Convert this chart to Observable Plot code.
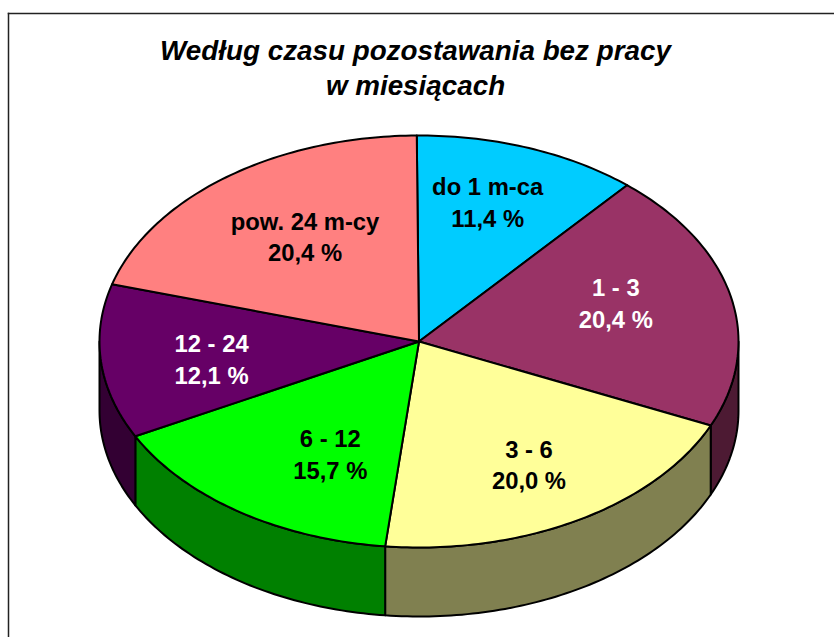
<!DOCTYPE html>
<html><head><meta charset="utf-8">
<style>html,body{margin:0;padding:0;background:#fff}svg{display:block}</style>
<script src="https://cdn.jsdelivr.net/npm/d3@7"></script>
<script src="https://cdn.jsdelivr.net/npm/@observablehq/plot@0.6"></script>
</head><body><script>
const categories = ["do 1 m-ca", "1 - 3", "3 - 6", "6 - 12", "12 - 24", "pow. 24 m-cy"];
const shares = [11.4, 20.4, 20.0, 15.7, 12.1, 20.4];
const shareLabels = ["11,4 %", "20,4 %", "20,0 %", "15,7 %", "12,1 %", "20,4 %"];
const topColors = ["#00CCFF", "#993366", "#FFFF99", "#00FF00", "#660066", "#FF8080"];
const wallColors = ["#006680", "#4D1A33", "#808050", "#008000", "#330033", "#804040"];
const labelInks = ["#000", "#fff", "#000", "#000", "#fff", "#000"];
const labelRadius = [0.71, 0.643, 0.69, 0.615, 0.655, 0.62];
const labelTurn = [-2.5, -4, 0, -7.5, -2, 2];
const title = "Według czasu pozostawania bez pracy\nw miesiącach";

// Pie geometry in unit-circle coordinates; the scales stretch it into a tilted ellipse.
const depth = 69 / 206;
const rotation = -0.4;
const total = d3.sum(shares);
const ends = d3.cumsum(shares).map(v => v / total * 360 + rotation);
const starts = [rotation, ...ends.slice(0, -1)];
const rad = a => a * Math.PI / 180;
const pt = (a, drop = 0) => ({x: Math.sin(rad(a)), y: Math.cos(rad(a)) - drop});
const arc = (a, b) => {
  const n = Math.max(1, Math.ceil(b - a));
  return d3.range(n + 1).map(i => a + (b - a) * i / n);
};

const tops = categories.flatMap((c, i) => [
  {x: 0, y: 0, id: c, color: topColors[i]},
  ...arc(starts[i], ends[i]).map(a => ({...pt(a), id: c, color: topColors[i]})),
  {x: 0, y: 0, id: c, color: topColors[i]}
]);
const walls = categories.flatMap((c, i) => {
  const a = Math.max(starts[i], 90), b = Math.min(ends[i], 270);
  if (a >= b) return [];
  const rim = arc(a, b);
  return [
    ...rim.map(t => ({...pt(t), id: c, color: wallColors[i]})),
    ...rim.slice().reverse().map(t => ({...pt(t, depth), id: c, color: wallColors[i]})),
    {...pt(rim[0]), id: c, color: wallColors[i]}
  ];
});
const labels = categories.map((c, i) => {
  const mid = (starts[i] + ends[i]) / 2 + labelTurn[i];
  const p = pt(mid);
  return {x: p.x * labelRadius[i], y: p.y * labelRadius[i], text: c + "\n" + shareLabels[i], ink: labelInks[i]};
});

const outline = {x: "x", y: "y", z: "id", fill: "color", stroke: "#000", strokeWidth: 2, strokeLinejoin: "round", curve: "linear"};
const chart = Plot.plot({
  width: 834, height: 637,
  marginTop: 13, marginLeft: 8, marginRight: 0, marginBottom: 0,
  style: {background: "#fff", fontFamily: "'Liberation Sans', Arial, sans-serif"},
  x: {domain: [-410.5 / 319.5, 415.5 / 319.5], axis: null},
  y: {domain: [-296 / 206, 328 / 206], axis: null},
  color: {type: "identity"},
  marks: [
    Plot.frame({anchor: "top", stroke: "#222", strokeWidth: 1.5}),
    Plot.frame({anchor: "left", stroke: "#222", strokeWidth: 1.5}),
    Plot.text([title], {
      frameAnchor: "top", dy: 22, dx: -6, lineAnchor: "top", lineHeight: 1.26,
      fontSize: 27.8, fontWeight: "bold", fontStyle: "italic", fill: "#000", text: d => d
    }),
    Plot.line(walls, outline),
    Plot.line(tops, outline),
    Plot.text(labels, {
      x: "x", y: "y", dy: -1.5, text: "text", fill: "ink", lineHeight: 1.33,
      fontSize: 23.8, fontWeight: "bold", lineAnchor: "middle"
    })
  ]
});
document.body.appendChild(chart);
</script></body></html>
